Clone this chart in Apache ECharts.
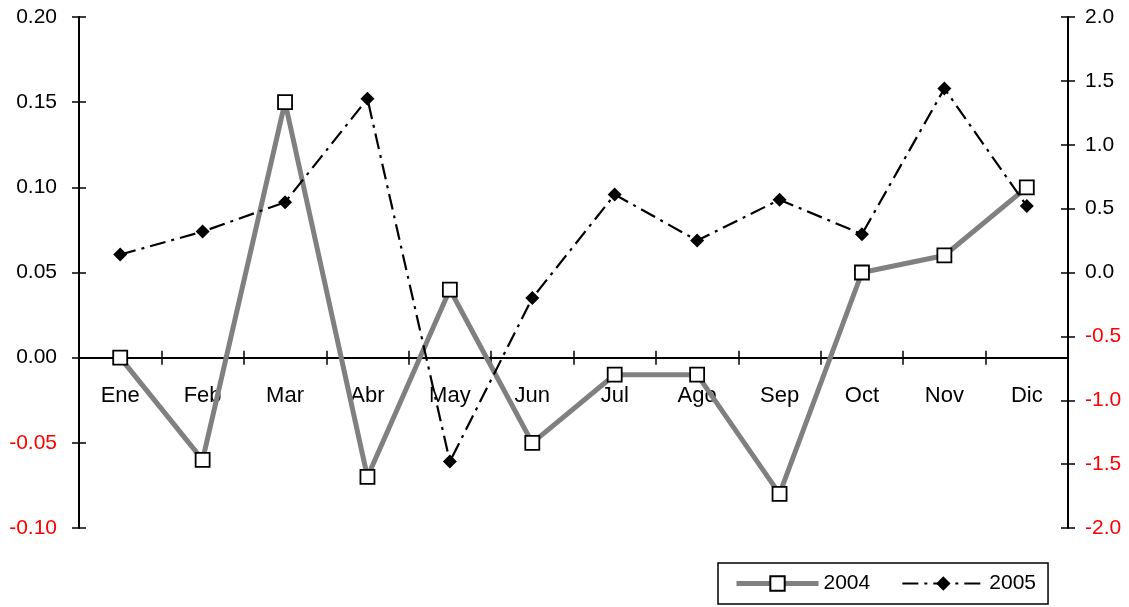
<!DOCTYPE html>
<html>
<head>
<meta charset="utf-8">
<script src="https://cdn.jsdelivr.net/npm/echarts@6/dist/echarts.min.js"></script>
<style>
html,body{margin:0;padding:0;background:#fff;}
#chart{width:1129px;height:607px;}
</style>
</head>
<body>
<div id="chart"></div>
<script>
var months = ['Ene', 'Feb', 'Mar', 'Abr', 'May', 'Jun', 'Jul', 'Ago', 'Sep', 'Oct', 'Nov', 'Dic'];
var data2004 = [0.00, -0.06, 0.15, -0.07, 0.04, -0.05, -0.01, -0.01, -0.08, 0.05, 0.06, 0.10];
var data2005 = [0.14, 0.32, 0.55, 1.36, -1.48, -0.20, 0.61, 0.25, 0.57, 0.30, 1.44, 0.52];

var chart = echarts.init(document.getElementById('chart'));

var FONT = 'Liberation Sans';

function negRed(value) {
	return value < 0 ? '#ff0000' : '#000000';
}

var line2004 = { color: '#808080', width: 5 };
var line2005 = { color: '#000', width: 2.2, type: [16, 6, 3, 6] };

// grid: top 17, height 511, left axis -0.10..0.20 -> zero sits 2/3 down
var gridTop = 17, gridBottom = 79, gridH = 607 - gridTop - gridBottom;
var zeroOffset = -(gridH * 0.10 / 0.30);

var option = {
	animation: false,
	textStyle: { fontFamily: FONT },
	grid: {
		left: 79,
		right: 61,
		top: gridTop,
		bottom: gridBottom
	},
	legend: {
		left: 718,
		top: 563,
		padding: [10, 12, 10, 16],
		borderColor: '#000',
		borderWidth: 1.5,
		itemWidth: 82,
		itemHeight: 18,
		itemGap: 31,
		textStyle: { fontFamily: FONT, fontSize: 21, color: '#000' },
		data: [
			{ name: '2004', lineStyle: line2004 },
			{ name: '2005', lineStyle: line2005 }
		]
	},
	xAxis: [{
		type: 'category',
		data: months,
		boundaryGap: true,
		position: 'bottom',
		offset: zeroOffset,
		axisLine: { onZero: false, lineStyle: { color: '#000', width: 2 } },
		axisTick: { show: true, length: 7, lineStyle: { color: '#000', width: 1.5 } },
		axisLabel: { margin: 27, fontFamily: FONT, fontSize: 22, color: '#000' },
		splitLine: { show: false }
	}, {
		type: 'category',
		data: months,
		boundaryGap: true,
		position: 'bottom',
		offset: zeroOffset,
		axisLine: { show: false, onZero: false },
		axisTick: { show: true, inside: true, length: 7, lineStyle: { color: '#000', width: 1.5 } },
		axisLabel: { show: false },
		splitLine: { show: false }
	}],
	yAxis: [{
		type: 'value',
		position: 'left',
		min: -0.10,
		max: 0.20,
		interval: 0.05,
		axisLine: { show: true, onZero: false, lineStyle: { color: '#000', width: 2 } },
		axisTick: { show: true, length: 7, lineStyle: { color: '#000', width: 1.5 } },
		axisLabel: {
			margin: 22,
			fontFamily: FONT,
			fontSize: 21,
			formatter: function (v) { return v.toFixed(2); },
			color: negRed
		},
		splitLine: { show: false }
	}, {
		type: 'value',
		position: 'right',
		min: -2.0,
		max: 2.0,
		interval: 0.5,
		axisLine: { show: true, onZero: false, lineStyle: { color: '#000', width: 2 } },
		axisTick: { show: true, length: 7, lineStyle: { color: '#000', width: 1.5 } },
		axisLabel: {
			margin: 17,
			fontFamily: FONT,
			fontSize: 21,
			formatter: function (v) { return v.toFixed(1); },
			color: negRed
		},
		splitLine: { show: false }
	}, {
		type: 'value',
		position: 'left',
		min: -0.10,
		max: 0.20,
		interval: 0.05,
		axisLine: { show: false, onZero: false },
		axisTick: { show: true, inside: true, length: 7, lineStyle: { color: '#000', width: 1.5 } },
		axisLabel: { show: false },
		splitLine: { show: false }
	}, {
		type: 'value',
		position: 'right',
		min: -2.0,
		max: 2.0,
		interval: 0.5,
		axisLine: { show: false, onZero: false },
		axisTick: { show: true, inside: true, length: 7, lineStyle: { color: '#000', width: 1.5 } },
		axisLabel: { show: false },
		splitLine: { show: false }
	}],
	series: [{
		name: '2004',
		type: 'line',
		xAxisIndex: 0,
		yAxisIndex: 0,
		data: data2004,
		symbol: 'rect',
		symbolSize: 14,
		lineStyle: line2004,
		itemStyle: { color: '#ffffff', borderColor: '#000', borderWidth: 1.8 },
		z: 2
	}, {
		name: '2005',
		type: 'line',
		xAxisIndex: 0,
		yAxisIndex: 1,
		data: data2005,
		symbol: 'diamond',
		symbolSize: 14,
		lineStyle: line2005,
		itemStyle: { color: '#000', borderColor: '#000', borderWidth: 0 },
		z: 3
	}]
};

chart.setOption(option);
</script>
</body>
</html>
